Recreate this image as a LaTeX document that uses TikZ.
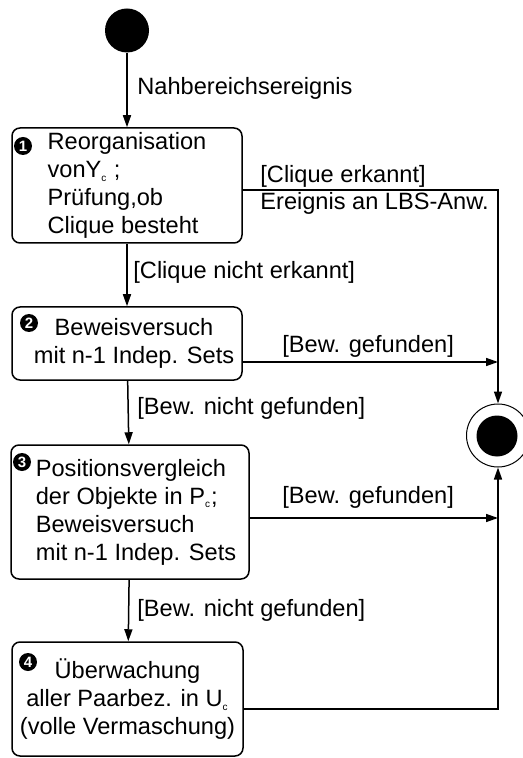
\documentclass[tikz,border=0pt]{standalone}
\usepackage{fontspec}
\setmainfont{Liberation Sans}
\usetikzlibrary{arrows.meta}
\newcommand{\idx}[1]{\textsubscript{\fontsize{5}{5}\selectfont #1}}
\tikzset{
  state/.style={draw, rounded corners=4pt, line width=0.75pt, inner sep=2pt,
    font=\fontsize{11.8}{14}\selectfont},
  badge/.style={circle, fill=black, text=white, inner sep=0pt, minimum size=9pt,
    font=\fontsize{7.5}{8}\selectfont\bfseries},
  flow/.style={-{Triangle[length=6pt,width=4pt]}, line width=0.75pt},
  lbl/.style={anchor=west, inner sep=0pt, font=\fontsize{11.8}{14}\selectfont}
}
\begin{document}
\begin{tikzpicture}[x=0.5pt,y=-0.5pt]
  \useasboundingbox (0,0) rectangle (523,758);
  % start and end
  \node[circle, fill=black, minimum size=22pt, inner sep=0pt] (start) at (127,30.5) {};
  \node[circle, draw, line width=0.5pt, minimum size=31.5pt, inner sep=0pt] (end) at (498,435.5) {};
  \node[circle, fill=black, minimum size=20.5pt, inner sep=0pt] (endin) at (497,436) {};
  % states
  \node[state, minimum width=115pt, minimum height=57.5pt, align=left] (s1) at (127,185.5)
    {Reorganisation\\ vonY\idx{c} ;\\ Prüfung,ob\\ Clique besteht};
  \node[state, minimum width=115pt, minimum height=36.5pt, align=center] (s2) at (127,343.5)
    {\hspace*{7pt}Beweisversuch\\ \hspace*{7pt}mit n-1 Indep. Sets};
  \node[state, minimum width=119pt, minimum height=67pt, align=left] (s3) at (130,512)
    {\hspace*{6pt}Positionsvergleich\\ \hspace*{6pt}der Objekte in P\idx{c};\\ \hspace*{6pt}Beweisversuch\\ \hspace*{6pt}mit n-1 Indep. Sets};
  \node[state, minimum width=115.5pt, minimum height=57pt, align=center] (s4) at (127.5,699)
    {Überwachung\\ aller Paarbez. in U\idx{c}\\ (volle Vermaschung)};
  % numbers
  \node[badge] (n1) at (23,146) {1};
  \node[badge] (n2) at (29,323) {2};
  \node[badge] (n3) at (22,462) {3};
  \node[badge] (n4) at (28,662) {4};
  % corners on the right
  \coordinate (k1) at (498,190);
  \coordinate (k2) at (498,362);
  \coordinate (k3) at (498,518);
  \coordinate (k4) at (498,709);
  \begin{scope}[flow]
    \draw (start) -- (s1);
    \draw (s1) -- (s2);
    \draw (s2) -- (s3);
    \draw (s3) -- (s4);
    \draw (s1.east |- k1) -- (k1) -- (end);
    \draw (s2.east |- k2) -- (k2);
    \draw (s3.east |- k3) -- (k3);
    \draw (s4.east |- k4) -- (k4) -- (end);
  \end{scope}
  % labels
  \node[lbl] (l0) at (137,88) {Nahbereichsereignis};
  \node[lbl] (l1) at (260,176) {[Clique erkannt]};
  \node[lbl] (l2) at (260,203) {Ereignis an LBS-Anw.};
  \node[lbl] (l3) at (133,272) {[Clique nicht erkannt]};
  \node[lbl] (l4) at (282,346) {[Bew. gefunden]};
  \node[lbl] (l5) at (137,408) {[Bew. nicht gefunden]};
  \node[lbl] (l6) at (282,497) {[Bew. gefunden]};
  \node[lbl] (l7) at (137,610) {[Bew. nicht gefunden]};
\end{tikzpicture}
\end{document}
